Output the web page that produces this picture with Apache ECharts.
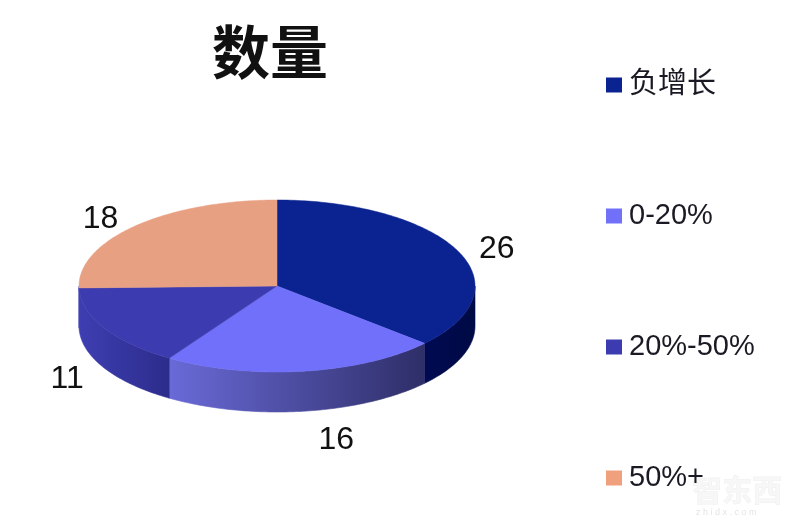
<!DOCTYPE html>
<html>
<head>
<meta charset="utf-8">
<style>html,body{margin:0;padding:0;background:#fff}#c{width:800px;height:531px}</style>
<script src="https://cdn.jsdelivr.net/npm/echarts@6/dist/echarts.min.js"></script>
</head>
<body>
<div id="c"></div>
<script>
const chartTitle = '数量';
const categories = ['负增长', '0-20%', '20%-50%', '50%+'];
const values = [26, 16, 11, 18];
const topColors = ['#0a2390', '#7070fa', '#3c3cb0', '#e8a083'];
const legendColors = ['#0a2390', '#7070f8', '#3c3cb0', '#f0a07c'];
const sideColors = [
  ['#000a52', '#000a45'],
  ['#6a6ad8', '#2e2e68'],
  ['#3e3eb2', '#2c2c8c'],
  ['#3e3eb2', '#3e3eb2']
];
// pixel nudges of each value label from the rim point at the slice's middle
const labelShift = [[39, -3], [33, 68], [-37, 50], [-35, -8]];

const CX = 277, CY = 286, RX = 198, RY = 86, DEPTH = 40;
const total = values.reduce((a, b) => a + b, 0);
const rim = deg => {
  const r = deg * Math.PI / 180;
  return [CX + RX * Math.sin(r), CY - RY * Math.cos(r)];
};
const arc = (a, b) => {
  const pts = [];
  const n = Math.max(2, Math.ceil(Math.abs(b - a)));
  for (let i = 0; i <= n; i++) pts.push(rim(a + (b - a) * i / n));
  return pts;
};

function renderSlice(idx) {
  return function (params, api) {
    const start = api.value(0) / total * 360;
    const val = api.value(1);
    const end = start + val / total * 360;
    const children = [];
    const a = Math.max(start, 90), b = Math.min(end, 270);
    if (b > a) {
      const upper = arc(a, b);
      const lower = upper.map(p => [p[0], p[1] + DEPTH]).reverse();
      const fill = new echarts.graphic.LinearGradient(0, 0, 1, 0, [
        { offset: 0, color: sideColors[idx][0] },
        { offset: 1, color: sideColors[idx][1] }
      ]);
      children.push({
        type: 'polygon',
        shape: { points: upper.concat(lower) },
        style: { fill: fill, stroke: fill, lineWidth: 0.6 }
      });
    }
    const pts = [[CX, CY]].concat(arc(start, end));
    children.push({
      type: 'polygon',
      shape: { points: pts },
      style: { fill: topColors[idx], stroke: topColors[idx], lineWidth: 0.5 }
    });
    const mid = rim((start + end) / 2);
    children.push({
      type: 'text',
      style: {
        x: mid[0] + labelShift[idx][0],
        y: mid[1] + labelShift[idx][1] + 1,
        text: String(val),
        fill: '#111',
        font: '32px "Liberation Sans", Arial, sans-serif',
        align: 'center',
        verticalAlign: 'middle'
      }
    });
    return { type: 'group', children: children };
  };
}

let running = 0;
const series = categories.map((name, i) => {
  const s = {
    type: 'custom',
    name: name,
    coordinateSystem: 'none',
    silent: true,
    itemStyle: { color: legendColors[i] },
    renderItem: renderSlice(i),
    data: [[running, values[i]]]
  };
  running += values[i];
  return s;
});

const chart = echarts.init(document.getElementById('c'), null, { renderer: 'canvas' });
chart.setOption({
  backgroundColor: '#fff',
  animation: false,
  title: {
    text: chartTitle,
    left: 207,
    top: 18,
    textStyle: {
      fontFamily: '"Noto Sans CJK SC"',
      fontSize: 58,
      fontWeight: 'bold',
      color: '#111'
    }
  },
  legend: {
    orient: 'vertical',
    left: 606,
    top: 68,
    padding: 0,
    itemGap: 97,
    itemWidth: 16,
    itemHeight: 15,
    icon: 'rect',
    selectedMode: false,
    data: categories,
    textStyle: {
      fontFamily: '"Liberation Sans", "Noto Sans CJK SC", sans-serif',
      fontSize: 29,
      lineHeight: 30,
      color: '#1a1a24',
      padding: [4, 0, 0, 2]
    }
  },
  graphic: [
    {
      type: 'text', left: 692, top: 474, silent: true,
      style: {
        text: '智东西',
        font: 'bold 30px "Noto Sans CJK SC"',
        fill: '#f6f6f6', stroke: '#e4e4e4', lineWidth: 0.5, opacity: 0.85
      }
    },
    {
      type: 'text', left: 696, top: 508, silent: true,
      style: {
        text: 'z h i d x . c o m',
        font: '9px "Liberation Sans"',
        fill: '#e4e4e4'
      }
    }
  ],
  series: series
});
</script>
</body>
</html>
